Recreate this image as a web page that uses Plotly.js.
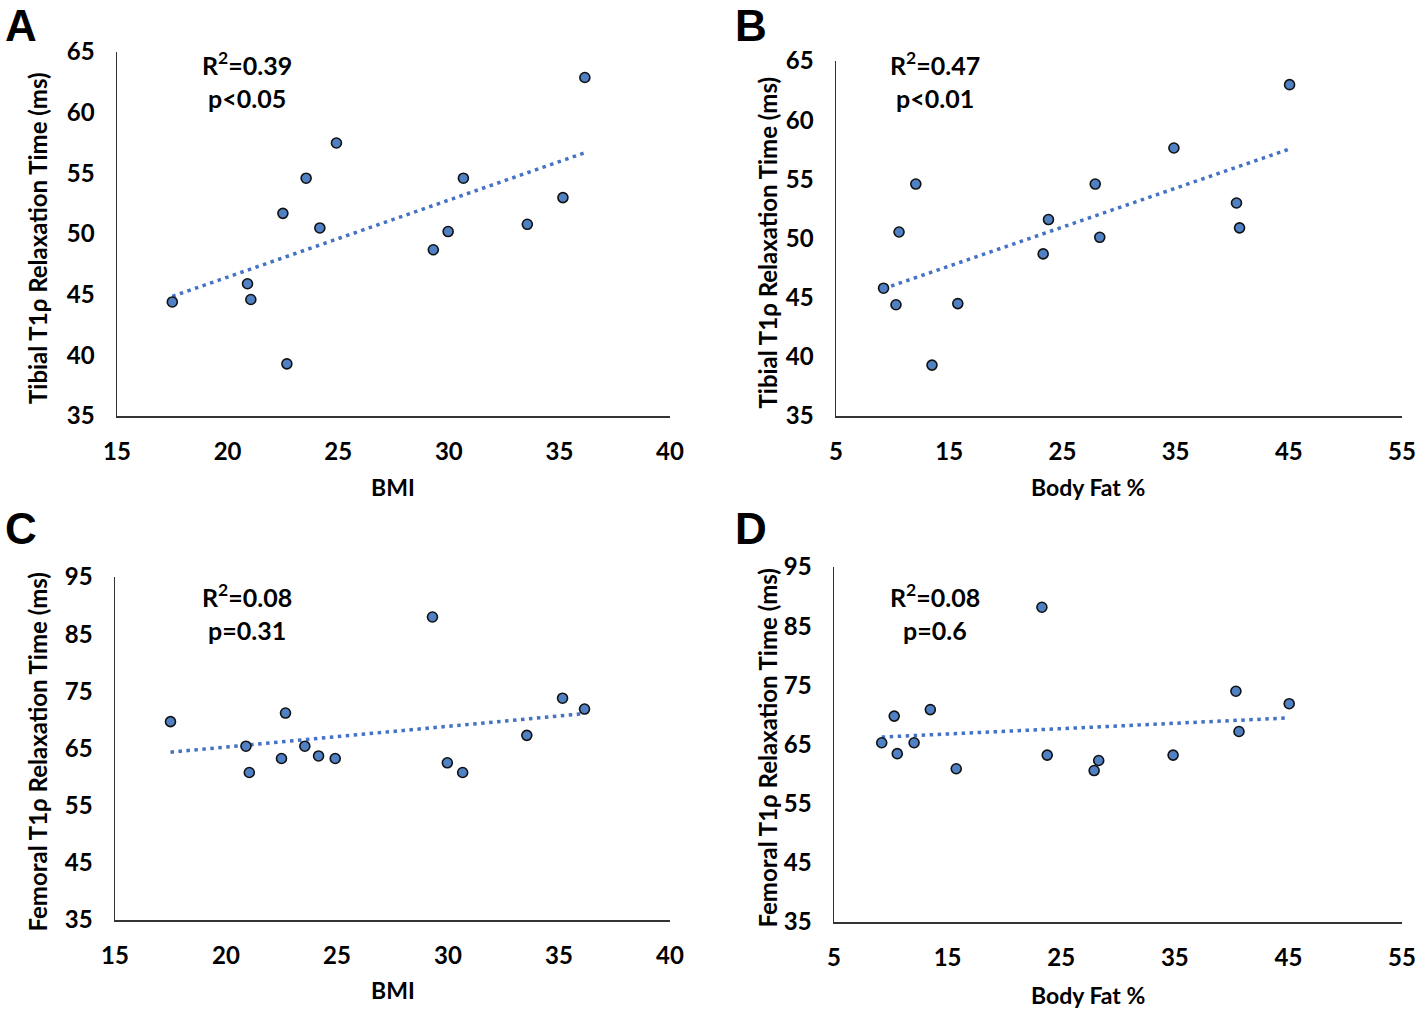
<!DOCTYPE html>
<html>
<head>
<meta charset="utf-8">
<script src="https://cdn.plot.ly/plotly-3.0.1.min.js"></script>
<style>
  html, body { margin: 0; padding: 0; background: #ffffff; }
  #chart { width: 1418px; height: 1010px; }
</style>
</head>
<body>
<div id="chart"></div>
<script>
// values
const bmi = [17.5, 20.9, 21.05, 22.5, 22.68, 23.55, 24.17, 24.92, 29.3, 29.97, 30.66, 33.55, 35.16, 36.15];
const tibialByBmi = [44.4, 45.9, 44.6, 51.7, 39.3, 54.6, 50.5, 57.5, 48.7, 50.2, 54.6, 50.8, 53.0, 62.9];
const femoralByBmi = [69.7, 65.4, 60.8, 63.25, 71.2, 65.4, 63.7, 63.25, 88.0, 62.5, 60.8, 67.3, 73.8, 71.9];

const bodyFat = [9.2, 10.3, 10.57, 12.05, 13.48, 15.76, 23.3, 23.77, 27.9, 28.3, 34.85, 40.38, 40.65, 45.07];
const tibialByFat = [45.8, 44.4, 50.55, 54.6, 39.3, 44.5, 48.7, 51.6, 54.6, 50.1, 57.65, 53.0, 50.9, 63.0];
const femoralByFat = [65.3, 69.8, 63.45, 65.3, 70.9, 60.9, 88.2, 63.2, 60.6, 62.3, 63.2, 74.0, 67.2, 71.9];

const bmiTicks = [15, 20, 25, 30, 35, 40];
const fatTicks = [5, 15, 25, 35, 45, 55];
const tibialTicks = [35, 40, 45, 50, 55, 60, 65];
const femoralTicks = [35, 45, 55, 65, 75, 85, 95];

const panelLetters = ["A", "B", "C", "D"];
const statLines = [
  ["R<sup>2</sup>=0.39", "p<0.05"],
  ["R<sup>2</sup>=0.47", "p<0.01"],
  ["R<sup>2</sup>=0.08", "p=0.31"],
  ["R<sup>2</sup>=0.08", "p=0.6"],
];
const xTitles = ["BMI", "Body Fat %", "BMI", "Body Fat %"];
const yTitles = [
  "Tibial T1\u03c1 Relaxation Time (ms)",
  "Tibial T1\u03c1 Relaxation Time (ms)",
  "Femoral T1\u03c1 Relaxation Time (ms)",
  "Femoral T1\u03c1 Relaxation Time (ms)",
];

const W = 1418;
const H = 1010;
const FONT = "Lato, 'Open Sans', sans-serif";
const POINT_FILL = "#4f81c4";
const TREND_COLOR = "#4472c4";

// pixel boxes of each plot area: [left, right, top, bottom]
const boxes = [
  [117, 670, 52, 416],
  [836, 1402, 61, 416],
  [115, 670, 577, 920],
  [834, 1402, 567, 922],
];

function fitLine(xs, ys) {
  const n = xs.length;
  const mx = xs.reduce((a, b) => a + b, 0) / n;
  const my = ys.reduce((a, b) => a + b, 0) / n;
  let sxy = 0;
  let sxx = 0;
  for (let i = 0; i < n; i++) {
    sxy += (xs[i] - mx) * (ys[i] - my);
    sxx += (xs[i] - mx) * (xs[i] - mx);
  }
  const slope = sxy / sxx;
  const x0 = Math.min(...xs);
  const x1 = Math.max(...xs);
  return { x: [x0, x1], y: [my + slope * (x0 - mx), my + slope * (x1 - mx)] };
}

const panels = [
  { x: bmi, y: tibialByBmi, xt: bmiTicks, yt: tibialTicks },
  { x: bodyFat, y: tibialByFat, xt: fatTicks, yt: tibialTicks },
  { x: bmi, y: femoralByBmi, xt: bmiTicks, yt: femoralTicks },
  { x: bodyFat, y: femoralByFat, xt: fatTicks, yt: femoralTicks },
];

const traces = [];
const layout = {
  width: W,
  height: H,
  margin: { l: 0, r: 0, t: 0, b: 0 },
  paper_bgcolor: "#ffffff",
  plot_bgcolor: "#ffffff",
  showlegend: false,
  font: { family: FONT, color: "#000000" },
  annotations: [],
};

const px = (v) => v / W;
const py = (v) => 1 - v / H;
const bold = (v) => "<b>" + v + "</b>";

function note(x, y, text, size, extra) {
  layout.annotations.push(Object.assign({
    xref: "paper", yref: "paper",
    x: px(x), y: py(y),
    xanchor: "center", yanchor: "middle",
    text: bold(text),
    showarrow: false,
    font: { family: FONT, size, color: "#000000" },
  }, extra || {}));
}

panels.forEach((p, i) => {
  const n = i === 0 ? "" : String(i + 1);
  const xa = "x" + n;
  const ya = "y" + n;
  const [left, right, top, bottom] = boxes[i];
  const trend = fitLine(p.x, p.y);

  traces.push({
    type: "scatter",
    mode: "lines",
    x: trend.x,
    y: trend.y,
    xaxis: xa,
    yaxis: ya,
    line: { color: TREND_COLOR, width: 3.5, dash: "3.5px,4.5px" },
    hoverinfo: "skip",
  });
  traces.push({
    type: "scatter",
    mode: "markers",
    x: p.x,
    y: p.y,
    xaxis: xa,
    yaxis: ya,
    marker: { size: 10, color: POINT_FILL, line: { color: "#111111", width: 1.6 } },
  });

  const axisCommon = {
    showline: true,
    linecolor: "#333333",
    linewidth: 1.5,
    showgrid: false,
    zeroline: false,
    ticks: "",
    tickmode: "array",
    tickfont: { family: FONT, size: 24, color: "#000000" },
    fixedrange: true,
  };
  layout["xaxis" + n] = Object.assign({}, axisCommon, {
    domain: [px(left), px(right)],
    anchor: ya,
    range: [p.xt[0], p.xt[p.xt.length - 1]],
    tickvals: p.xt,
    ticktext: p.xt.map(bold),
    ticklabelstandoff: 14,
  });
  layout["yaxis" + n] = Object.assign({}, axisCommon, {
    domain: [py(bottom), py(top)],
    anchor: xa,
    range: [p.yt[0], p.yt[p.yt.length - 1]],
    tickvals: p.yt,
    ticktext: p.yt.map(bold),
    ticklabelstandoff: 16,
  });

  const left2 = i % 2 === 1;
  note(left2 ? 751 : 21, i < 2 ? 0 : 503, panelLetters[i], 44, {
    yanchor: "top",
    borderpad: 0,
    font: { family: "'Liberation Sans', Arial, sans-serif", size: 44, color: "#000000" },
  });
  note(left2 ? 1088 : 393, i < 2 ? 487 : (left2 ? 995 : 990), xTitles[i], 23);
  note(left2 ? 767 : 37, (top + bottom) / 2 + 4, yTitles[i], 24, { textangle: -90 });

  const statX = left2 ? 935 : 247;
  const statY = i < 2 ? 63 : 595;
  statLines[i].forEach((line, k) => note(statX, statY + k * 35, line, 25));
});

Plotly.newPlot("chart", traces, layout, { displayModeBar: false, staticPlot: true });
</script>
</body>
</html>
